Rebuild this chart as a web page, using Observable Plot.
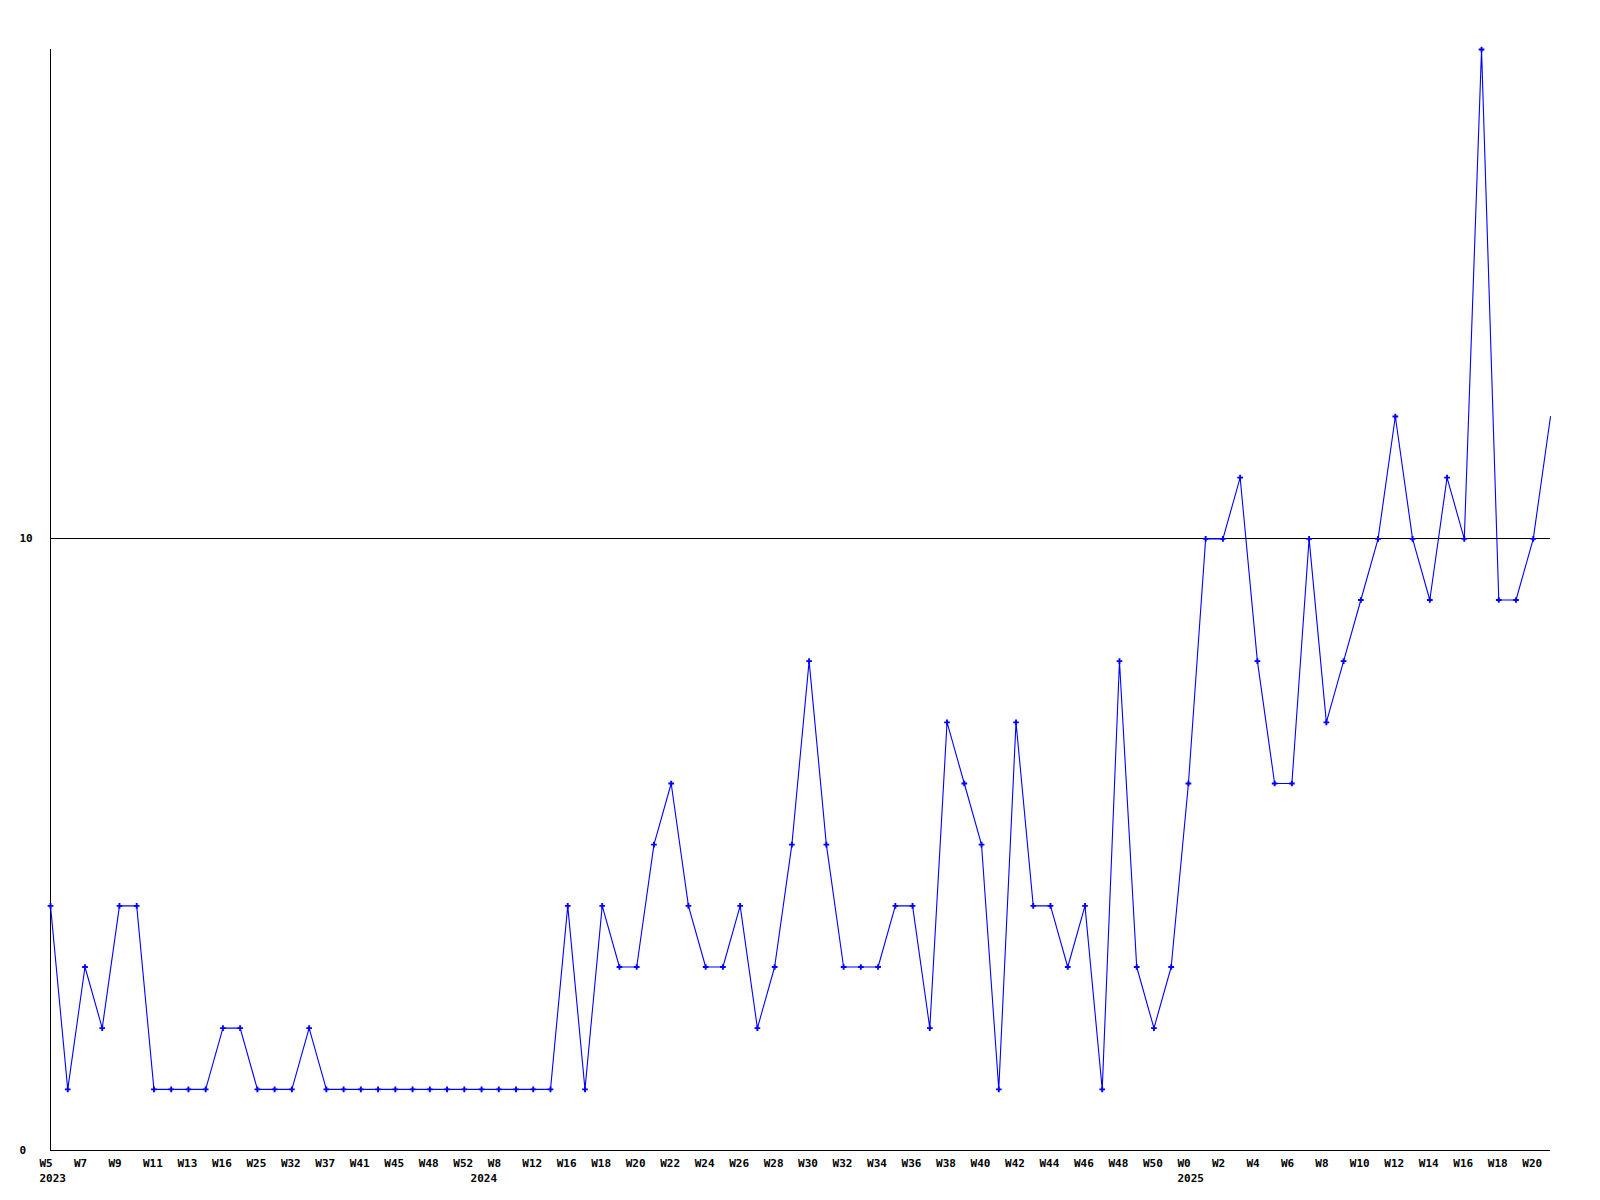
<!DOCTYPE html>
<html>
<head>
<meta charset="utf-8">
<script src="https://cdn.jsdelivr.net/npm/d3@7"></script>
<script src="https://cdn.jsdelivr.net/npm/@observablehq/plot@0.6"></script>
<style>
  html, body { margin: 0; padding: 0; background: #fff; }
  #chart svg { display: block; }
</style>
</head>
<body>
<div id="chart"></div>
<script>
// Weekly values, one per point (ordinal positions)
const values = [
  4, 1, 3, 2, 4, 4, 1, 1, 1, 1,
  2, 2, 1, 1, 1, 2, 1, 1, 1, 1,
  1, 1, 1, 1, 1, 1, 1, 1, 1, 1,
  4, 1, 4, 3, 3, 5, 6, 4, 3, 3,
  4, 2, 3, 5, 8, 5, 3, 3, 3, 4,
  4, 2, 7, 6, 5, 1, 7, 4, 4, 3,
  4, 1, 8, 3, 2, 3, 6, 10, 10, 11,
  8, 6, 6, 10, 7, 8, 9, 10, 12, 10,
  9, 11, 10, 18, 9, 9, 10, 12
];

// Tick labels shown under every other point
const weekTickLabels = [
  "W5", "W7", "W9", "W11", "W13", "W16", "W25", "W32", "W37", "W41",
  "W45", "W48", "W52", "W8", "W12", "W16", "W18", "W20", "W22", "W24",
  "W26", "W28", "W30", "W32", "W34", "W36", "W38", "W40", "W42", "W44",
  "W46", "W48", "W50", "W0", "W2", "W4", "W6", "W8", "W10", "W12",
  "W14", "W16", "W18", "W20"
];

// Year labels and the point index where each year starts
const yearLabels = ["2023", "2024", "2025"];
const yearStartIndex = [0, 25, 66];

// Y tick labels
const yTicks = [0, 10];

const points = values.map((v, i) => ({i, v}));
const weekTicks = weekTickLabels.map((label, k) => ({i: k * 2, label}));
const yearTicks = yearLabels.map((year, k) => ({i: yearStartIndex[k], year}));

const font = "'DejaVu Sans Mono', monospace";

const chart = Plot.plot({
  width: 1600,
  height: 1200,
  marginLeft: 50,
  marginRight: 50,
  marginTop: 49,
  marginBottom: 50,
  style: {fontFamily: font, fontSize: "11px", fontWeight: "bold", background: "#fff", overflow: "visible"},
  x: {domain: [0, values.length - 1], axis: null},
  y: {domain: [0, 18], axis: null},
  marks: [
    Plot.ruleY([10], {stroke: "#000", strokeWidth: 1, shapeRendering: "crispEdges"}),
    Plot.ruleY([0], {stroke: "#000", strokeWidth: 1, shapeRendering: "crispEdges"}),
    Plot.ruleX([0], {stroke: "#000", strokeWidth: 1, shapeRendering: "crispEdges"}),
    Plot.line(points, {x: "i", y: "v", stroke: "#0000ff", strokeWidth: 1.1}),
    Plot.dot(points.slice(0, -1), {x: "i", y: "v", symbol: "cross", r: 2.4, fill: "#0000ff", stroke: "none"}),
    Plot.text(weekTicks, {x: "i", text: "label", frameAnchor: "bottom", dy: 13, dx: -11, textAnchor: "start", lineAnchor: "middle", fill: "#000"}),
    Plot.text(yearTicks, {x: "i", text: "year", frameAnchor: "bottom", dy: 28, dx: -11, textAnchor: "start", lineAnchor: "middle", fill: "#000"}),
    Plot.text(yTicks, {y: d => d, text: d => String(d), frameAnchor: "left", dx: -31, textAnchor: "start", lineAnchor: "middle", fill: "#000"})
  ]
});

document.getElementById("chart").appendChild(chart);
</script>
</body>
</html>
